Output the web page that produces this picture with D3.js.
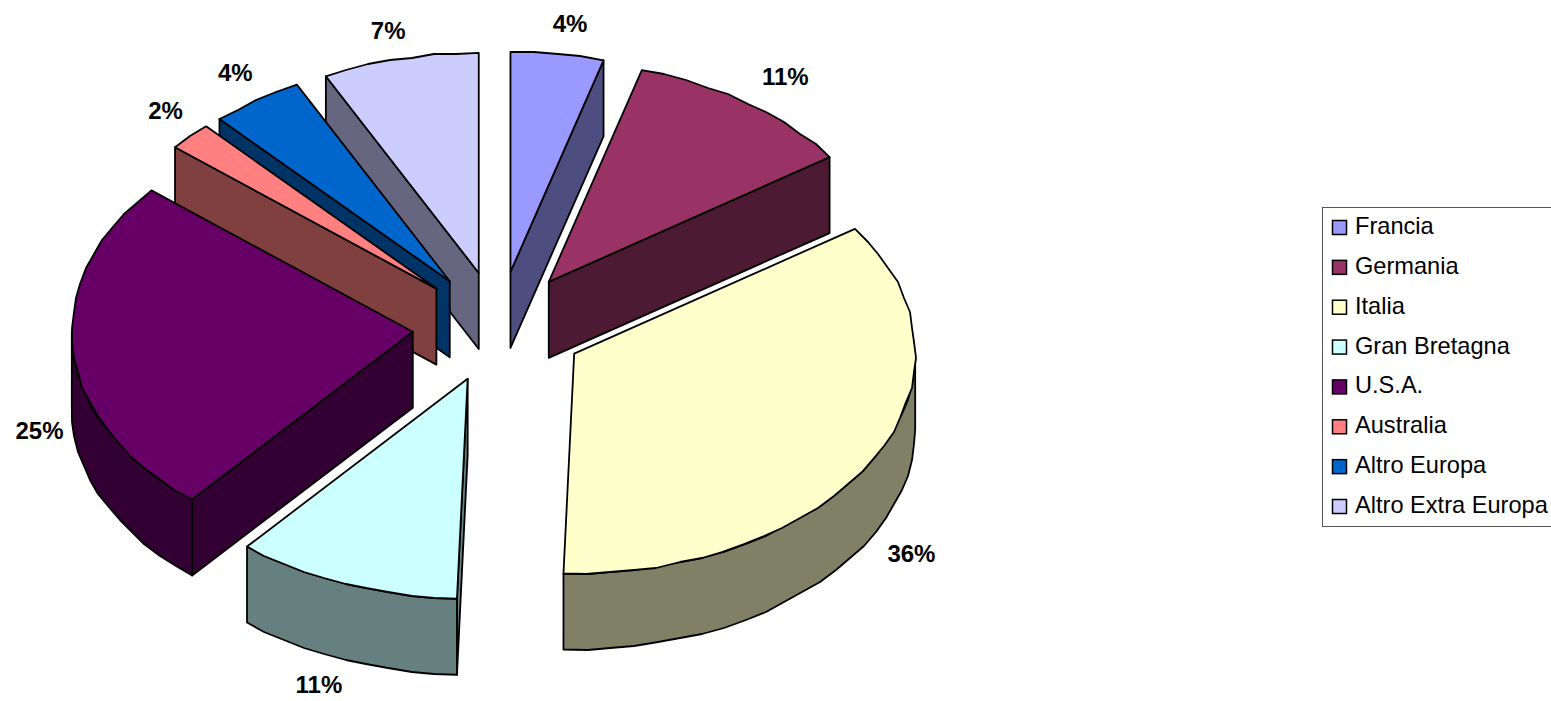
<!DOCTYPE html>
<html>
<head>
<meta charset="utf-8">
<script src="https://cdn.jsdelivr.net/npm/d3@7"></script>
<style>
  html, body { margin: 0; padding: 0; background: #fff; overflow: hidden; }
  text { font-family: "Liberation Sans", Arial, sans-serif; fill: #000; }
</style>
</head>
<body>
<div id="chart"></div>
<script>
const categories = ["Francia", "Germania", "Italia", "Gran Bretagna", "U.S.A.", "Australia", "Altro Europa", "Altro Extra Europa"];
const shares = [4.4, 11.0, 35.1, 10.7, 24.9, 2.1, 4.4, 7.4];
const percentLabels = ["4%", "11%", "36%", "11%", "25%", "2%", "4%", "7%"];
const colors = ["#9999FF", "#993366", "#FFFFCC", "#CCFFFF", "#660066", "#FF8080", "#0066CC", "#CCCCFF"];

// Excel paints the pie back to front, walls of a later slice hide nothing of an earlier top
const drawOrder = [7, 6, 5, 4, 0, 1, 2, 3];

const width = 1551, height = 701;
const cx = 498.6, cy = 327, rx = 341, ry = 220, depth = 76;
const explode = 0.2525;
const labelDist = 1.14;
// small per label corrections, the original boxes are not quite radial
const labelNudge = [[6, 0], [10, -2], [-4, 4], [-9, -4], [14, 2], [10, -5], [6, -2], [-1, 2]];
const arcStep = Math.PI / 45;
const wobble = 2; // rim points snap to this grid, gives the rough edge of the original

const svg = d3.select("#chart").append("svg")
  .attr("width", width)
  .attr("height", height)
  .style("display", "block");

const color = d3.scaleOrdinal().domain(categories).range(colors);
const pie = d3.pie().sort(null).value(d => d.share);
const slices = pie(categories.map((name, i) => ({ name: name, share: shares[i] })));
const line = d3.line();

// half the brightness for the sides
function shade(c) {
  const o = d3.rgb(c);
  return d3.rgb(o.r * 0.5, o.g * 0.5, o.b * 0.5).formatHex();
}

function apex(s) {
  const mid = (s.startAngle + s.endAngle) / 2;
  return [cx + explode * rx * Math.sin(mid), cy - explode * ry * Math.cos(mid)];
}

function rim(s, t, dy) {
  const a = apex(s);
  return [a[0] + rx * Math.sin(t), a[1] - ry * Math.cos(t) + (dy || 0)];
}

// outline points between two angles
function arcPoints(s, t0, t1, dy) {
  const n = Math.max(1, Math.ceil((t1 - t0) / arcStep));
  return d3.range(n + 1).map(i => {
    const p = rim(s, t0 + (t1 - t0) * i / n, dy);
    if (i === 0 || i === n) return p;
    return [Math.round(p[0] / wobble) * wobble, Math.round(p[1] / wobble) * wobble];
  });
}

function drawFace(g, points, fill) {
  g.append("path")
    .attr("d", line(points) + "Z")
    .attr("fill", fill)
    .attr("stroke", "#000")
    .attr("stroke-width", 1.8)
    .attr("stroke-linejoin", "round");
}

drawOrder.forEach(i => {
  const s = slices[i];
  const g = svg.append("g").attr("class", "slice");
  const fill = color(s.data.name);
  const side = shade(fill);
  const a = apex(s);
  const aLow = [a[0], a[1] + depth];
  const t0 = s.startAngle, t1 = s.endAngle;

  // cut faces, only the ones turned towards the viewer
  if (Math.sin(t0) < -1e-6) {
    drawFace(g, [a, rim(s, t0), rim(s, t0, depth), aLow], side);
  }
  if (Math.sin(t1) > 1e-6) {
    drawFace(g, [a, rim(s, t1), rim(s, t1, depth), aLow], side);
  }

  // outer wall on the front half of the ellipse
  const w0 = Math.max(t0, Math.PI / 2), w1 = Math.min(t1, Math.PI * 1.5);
  if (w1 > w0) {
    drawFace(g, arcPoints(s, w0, w1).concat(arcPoints(s, w0, w1, depth).reverse()), side);
  }

  // top
  drawFace(g, [a].concat(arcPoints(s, t0, t1)), fill);
});

// percent labels
svg.append("g").selectAll("text")
  .data(slices)
  .enter().append("text")
  .attr("x", (d, i) => {
    const mid = (d.startAngle + d.endAngle) / 2;
    return apex(d)[0] + labelDist * rx * Math.sin(mid) + labelNudge[i][0];
  })
  .attr("y", (d, i) => {
    const mid = (d.startAngle + d.endAngle) / 2;
    return apex(d)[1] - labelDist * ry * Math.cos(mid) + (Math.cos(mid) < 0 ? depth : 0) + labelNudge[i][1];
  })
  .attr("text-anchor", "middle")
  .attr("dominant-baseline", "central")
  .attr("font-size", 24)
  .attr("font-weight", "bold")
  .text((d, i) => percentLabels[i]);

// legend
const legendY = d3.scalePoint().domain(categories).range([227, 506]);
const legend = svg.append("g").attr("class", "legend");

legend.append("rect")
  .attr("x", 1322.5)
  .attr("y", 207.5)
  .attr("width", 240)
  .attr("height", 319)
  .attr("fill", "#fff")
  .attr("stroke", "#555")
  .attr("stroke-width", 1);

legend.selectAll("rect.key")
  .data(categories)
  .enter().append("rect")
  .attr("class", "key")
  .attr("x", 1332.5)
  .attr("y", d => legendY(d) - 6.5)
  .attr("width", 14)
  .attr("height", 14)
  .attr("fill", d => color(d))
  .attr("stroke", "#000")
  .attr("stroke-width", 1.5);

legend.selectAll("text")
  .data(categories)
  .enter().append("text")
  .attr("x", 1355)
  .attr("y", d => legendY(d) - 1)
  .attr("dominant-baseline", "central")
  .attr("font-size", 23.6)
  .text(d => d);
</script>
</body>
</html>
